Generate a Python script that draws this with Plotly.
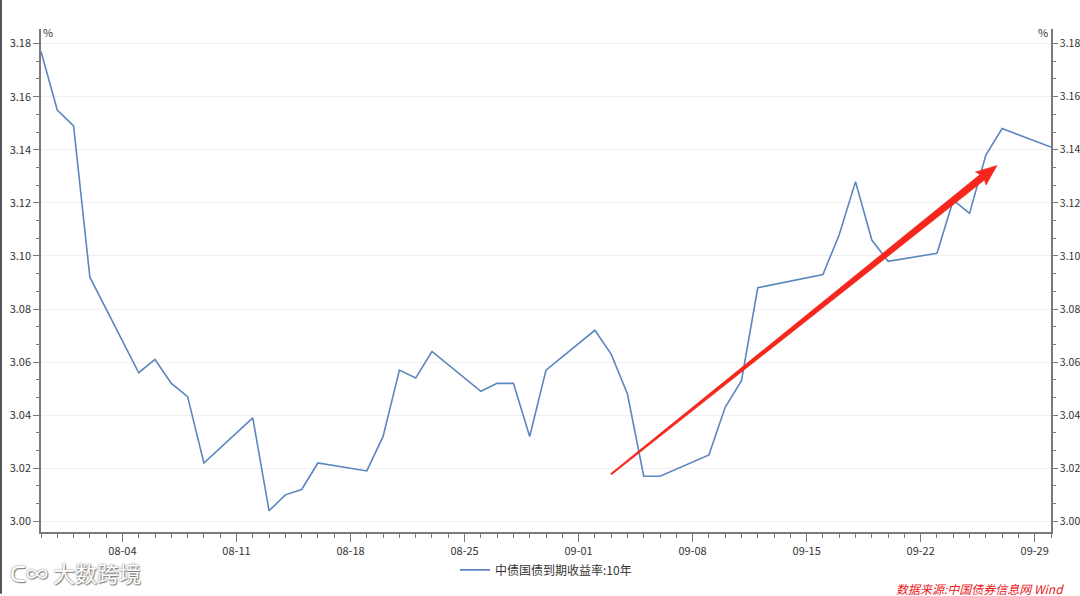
import plotly.graph_objects as go
import pandas as pd
import numpy as np

dates = ["2019-07-30", "2019-07-31", "2019-08-01", "2019-08-02",
         "2019-08-05", "2019-08-06", "2019-08-07", "2019-08-08", "2019-08-09",
         "2019-08-12", "2019-08-13", "2019-08-14", "2019-08-15", "2019-08-16",
         "2019-08-19", "2019-08-20", "2019-08-21", "2019-08-22", "2019-08-23",
         "2019-08-26", "2019-08-27", "2019-08-28", "2019-08-29", "2019-08-30",
         "2019-09-02", "2019-09-03", "2019-09-04", "2019-09-05", "2019-09-06",
         "2019-09-09", "2019-09-10", "2019-09-11", "2019-09-12",
         "2019-09-16", "2019-09-17", "2019-09-18", "2019-09-19", "2019-09-20",
         "2019-09-23", "2019-09-24", "2019-09-25", "2019-09-26", "2019-09-27",
         "2019-09-30"]
yields = [3.177, 3.155, 3.149, 3.092,
          3.056, 3.061, 3.052, 3.047, 3.022,
          3.039, 3.004, 3.010, 3.012, 3.022,
          3.019, 3.032, 3.057, 3.054, 3.064,
          3.049, 3.052, 3.052, 3.032, 3.057,
          3.072, 3.063, 3.048, 3.017, 3.017,
          3.025, 3.043, 3.053, 3.088,
          3.093, 3.108, 3.128, 3.106, 3.098,
          3.101, 3.121, 3.116, 3.138, 3.148,
          3.141]
series_name = "中债国债到期收益率:10年"
source_text = "数据来源:中国债券信息网 Wind"
unit_label = "%"

x_range = ["2019-07-30", "2019-09-30"]
y_range = [2.996, 3.1855]

# trend arrow (annotation) endpoints in data units
arrow_tail = ("2019-09-03 00:00", 3.0178)
arrow_tip = ("2019-09-26 16:30", 3.1341)

W, H = 1080, 596
ML, MR, MT, MB = 41, 29, 29, 62
PW = W - ML - MR
PH = H - MT - MB

FONT = "Noto Sans CJK SC, Open Sans, sans-serif"
LINE_BLUE = "#5b86bf"
AXIS_COL = "#7a7a7a"
TXT = "#333333"

fig = go.Figure()
fig.add_trace(go.Scatter(x=dates, y=yields, mode="lines", name=series_name,
                         line=dict(color=LINE_BLUE, width=1.6)))
fig.add_trace(go.Scatter(x=dates, y=yields, mode="lines", yaxis="y2",
                         showlegend=False, hoverinfo="skip",
                         line=dict(color="rgba(0,0,0,0)", width=0)))

# tapered arrow as a polygon in paper coordinates
x0 = pd.Timestamp(x_range[0]); x1 = pd.Timestamp(x_range[1])
def to_px(pt):
    t = pd.Timestamp(pt[0])
    fx = (t - x0) / (x1 - x0)
    fy = (pt[1] - y_range[0]) / (y_range[1] - y_range[0])
    return np.array([fx * PW, fy * PH])

T = to_px(arrow_tail); P = to_px(arrow_tip)
d = (P - T) / np.linalg.norm(P - T)
n = np.array([-d[1], d[0]])
head_len, head_w, w0, w1 = 19, 8.5, 0.8, 3.6
B = P - d * head_len
pts = [T + n * w0, B + n * w1, B - d * 2 + n * head_w, P,
       B - d * 2 - n * head_w, B - n * w1, T - n * w0]
path = "M " + " L ".join(f"{p[0]/PW:.5f},{p[1]/PH:.5f}" for p in pts) + " Z"
fig.add_shape(type="path", xref="paper", yref="paper", path=path,
              fillcolor="#f5261b", line=dict(color="#f5261b", width=0.5))

# left border of the picture
fig.add_shape(type="line", xref="paper", yref="paper",
              x0=-(ML - 1) / PW, x1=-(ML - 1) / PW, y0=-MB / PH, y1=(PH + MT) / PH,
              line=dict(color="#555555", width=2))

axis_common = dict(showline=True, linecolor=AXIS_COL, linewidth=1.5,
                   ticks="outside", tickcolor=AXIS_COL, tickwidth=1,
                   zeroline=False, automargin=False)
tickfont = dict(family=FONT, size=11, color=TXT)

fig.update_layout(
    width=W, height=H,
    margin=dict(l=ML, r=MR, t=MT, b=MB),
    paper_bgcolor="white", plot_bgcolor="white",
    font=dict(family=FONT, size=11, color=TXT),
    showlegend=True,
    legend=dict(orientation="h", x=0.5, xanchor="center", y=-38 / PH, yanchor="middle",
                font=dict(family=FONT, size=12, color=TXT), itemwidth=30),
    xaxis=dict(type="date", range=x_range, tick0="2019-08-04", dtick=7 * 86400000,
               tickformat="%m-%d", showgrid=False, ticklen=8, tickfont=tickfont,
               minor=dict(dtick=86400000, tick0="2019-07-30", ticks="outside",
                          ticklen=4, tickcolor=AXIS_COL, showgrid=False),
               **axis_common),
    yaxis=dict(range=y_range, tick0=3.0, dtick=0.02, tickformat=".2f",
               showgrid=True, gridcolor="#f0f0f0", gridwidth=1, ticklen=6,
               tickfont=tickfont,
               minor=dict(dtick=0.02 / 3, tick0=3.0, ticks="outside", ticklen=3,
                          tickcolor=AXIS_COL, showgrid=False),
               **axis_common),
    yaxis2=dict(range=y_range, tick0=3.0, dtick=0.02, tickformat=".2f",
                overlaying="y", side="right", showgrid=False, ticklen=5,
                tickfont=dict(family=FONT, size=10.5, color=TXT),
                minor=dict(dtick=0.02 / 3, tick0=3.0, ticks="outside", ticklen=3,
                           tickcolor=AXIS_COL, showgrid=False),
                **axis_common),
)

fig.add_annotation(xref="paper", yref="paper", x=0, y=1 - 3 / PH, xanchor="left",
                   yanchor="middle", text=unit_label, showarrow=False, xshift=0,
                   font=dict(family=FONT, size=11, color=TXT))
fig.add_annotation(xref="paper", yref="paper", x=1, y=1 - 3 / PH, xanchor="right",
                   yanchor="middle", text=unit_label, showarrow=False, xshift=-1,
                   font=dict(family=FONT, size=11, color=TXT))
fig.add_annotation(xref="paper", yref="paper", x=(1066 - ML) / PW, y=-57 / PH,
                   xanchor="right", yanchor="middle", text=f"<i>{source_text}</i>",
                   showarrow=False, font=dict(family=FONT, size=12, color="#e8201c"))
fig.add_annotation(xref="paper", yref="paper", x=(8 - ML) / PW, y=-40 / PH,
                   xanchor="left", yanchor="middle", text="ᑕ∞ 大数跨境",
                   showarrow=False,
                   font=dict(family=FONT, size=22, color="white",
                             shadow="0px 0px 2px #666, 1px 1px 1px #888"))

fig.write_html("out.html", config={"displayModeBar": False},
               post_script="document.body.style.margin='0';document.body.style.overflow='hidden';")
